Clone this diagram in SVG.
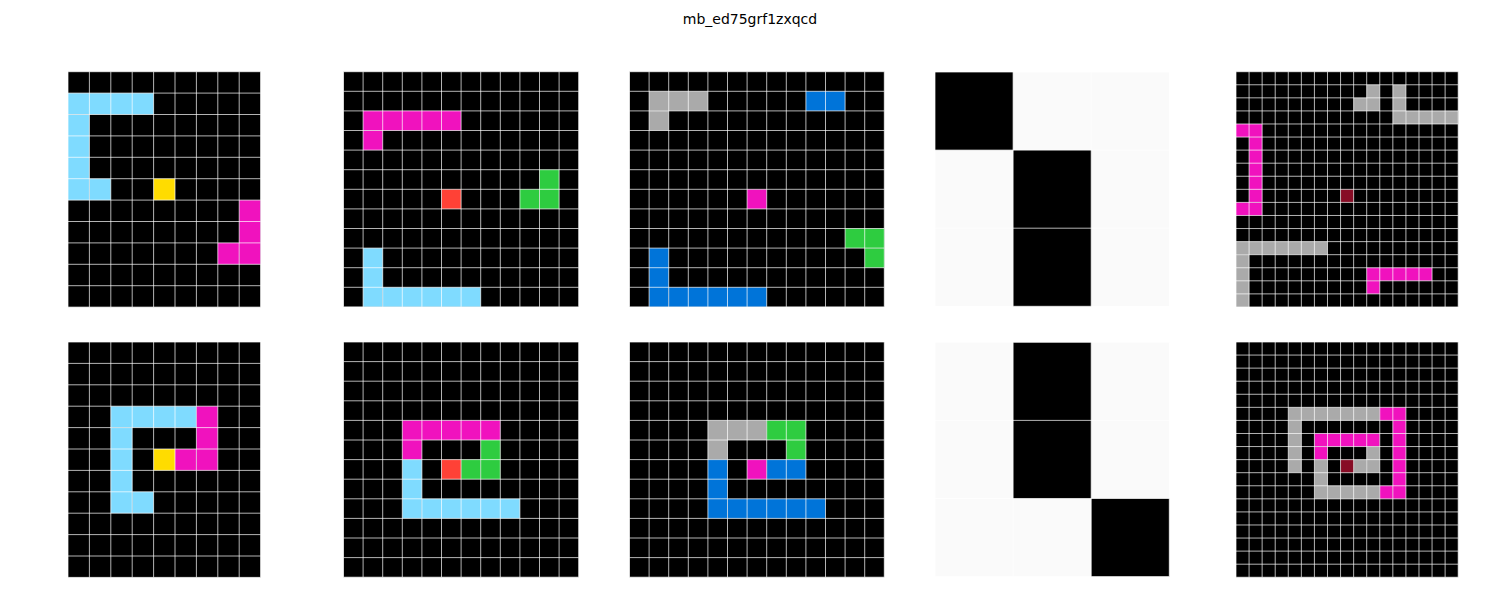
<svg xmlns="http://www.w3.org/2000/svg" width="1500" height="600" viewBox="0 0 1500 600">
<style>
.bg{fill:#000}
.wbg{fill:#fafafa}
.k{fill:#000}
.lb{fill:#7FDBFF}
.y{fill:#FFDC00}
.m{fill:#F012BE}
.r{fill:#FF4136}
.g{fill:#2ECC40}
.gr{fill:#AAAAAA}
.b{fill:#0074D9}
.mr{fill:#870C25}
.gl{fill:none;stroke:#fff;stroke-opacity:0.7;stroke-width:1;vector-effect:non-scaling-stroke}
.t{font-family:"DejaVu Sans",sans-serif;font-size:14px;fill:#000}
</style>
<rect width="1500" height="600" fill="#fff"/>
<text class="t" x="750" y="24" text-anchor="middle">mb_ed75grf1zxqcd</text>

<g id="grid1" transform="translate(68,71.7) scale(21.4)">
<rect class="bg" width="9" height="11"/>
<rect class="lb" x="0" y="1" width="4" height="1"/><rect class="lb" x="0" y="2" width="1" height="4"/><rect class="lb" x="1" y="5" width="1" height="1"/>
<rect class="y" x="4" y="5" width="1" height="1"/>
<rect class="m" x="8" y="6" width="1" height="3"/><rect class="m" x="7" y="8" width="1" height="1"/>
<path class="gl" d="M0,0V11M1,0V11M2,0V11M3,0V11M4,0V11M5,0V11M6,0V11M7,0V11M8,0V11M9,0V11M0,0H9M0,1H9M0,2H9M0,3H9M0,4H9M0,5H9M0,6H9M0,7H9M0,8H9M0,9H9M0,10H9M0,11H9"/>
</g>

<g id="grid2" transform="translate(343.5,71.7) scale(19.6)">
<rect class="bg" width="12" height="12"/>
<rect class="m" x="1" y="2" width="5" height="1"/><rect class="m" x="1" y="3" width="1" height="1"/>
<rect class="g" x="10" y="5" width="1" height="2"/><rect class="g" x="9" y="6" width="1" height="1"/>
<rect class="r" x="5" y="6" width="1" height="1"/>
<rect class="lb" x="1" y="9" width="1" height="3"/><rect class="lb" x="2" y="11" width="5" height="1"/>
<path class="gl" d="M0,0V12M1,0V12M2,0V12M3,0V12M4,0V12M5,0V12M6,0V12M7,0V12M8,0V12M9,0V12M10,0V12M11,0V12M12,0V12M0,0H12M0,1H12M0,2H12M0,3H12M0,4H12M0,5H12M0,6H12M0,7H12M0,8H12M0,9H12M0,10H12M0,11H12M0,12H12"/>
</g>

<g id="grid3" transform="translate(629.5,71.7) scale(19.6)">
<rect class="bg" width="13" height="12"/>
<rect class="gr" x="1" y="1" width="3" height="1"/><rect class="gr" x="1" y="2" width="1" height="1"/>
<rect class="b" x="9" y="1" width="2" height="1"/>
<rect class="m" x="6" y="6" width="1" height="1"/>
<rect class="g" x="11" y="8" width="2" height="1"/><rect class="g" x="12" y="9" width="1" height="1"/>
<rect class="b" x="1" y="9" width="1" height="3"/><rect class="b" x="2" y="11" width="5" height="1"/>
<path class="gl" d="M0,0V12M1,0V12M2,0V12M3,0V12M4,0V12M5,0V12M6,0V12M7,0V12M8,0V12M9,0V12M10,0V12M11,0V12M12,0V12M13,0V12M0,0H13M0,1H13M0,2H13M0,3H13M0,4H13M0,5H13M0,6H13M0,7H13M0,8H13M0,9H13M0,10H13M0,11H13M0,12H13"/>
</g>

<g id="grid4" transform="translate(935,72) scale(78.1)">
<rect class="wbg" width="3" height="3"/>
<rect class="k" x="0" y="0" width="1" height="1"/><rect class="k" x="1" y="1" width="1" height="2"/>
<path class="gl" d="M0,0V3M1,0V3M2,0V3M3,0V3M0,0H3M0,1H3M0,2H3M0,3H3"/>
</g>

<g id="grid5" transform="translate(1236,71.7) scale(13.07)">
<rect class="bg" width="17" height="18"/>
<rect class="gr" x="10" y="1" width="1" height="2"/><rect class="gr" x="9" y="2" width="1" height="1"/>
<rect class="gr" x="12" y="1" width="1" height="3"/><rect class="gr" x="13" y="3" width="4" height="1"/>
<rect class="m" x="0" y="4" width="2" height="1"/><rect class="m" x="1" y="5" width="1" height="5"/><rect class="m" x="0" y="10" width="2" height="1"/>
<rect class="mr" x="8" y="9" width="1" height="1"/>
<rect class="gr" x="0" y="13" width="7" height="1"/><rect class="gr" x="0" y="14" width="1" height="4"/>
<rect class="m" x="10" y="15" width="5" height="1"/><rect class="m" x="10" y="16" width="1" height="1"/>
<path class="gl" d="M0,0V18M1,0V18M2,0V18M3,0V18M4,0V18M5,0V18M6,0V18M7,0V18M8,0V18M9,0V18M10,0V18M11,0V18M12,0V18M13,0V18M14,0V18M15,0V18M16,0V18M17,0V18M0,0H17M0,1H17M0,2H17M0,3H17M0,4H17M0,5H17M0,6H17M0,7H17M0,8H17M0,9H17M0,10H17M0,11H17M0,12H17M0,13H17M0,14H17M0,15H17M0,16H17M0,17H17M0,18H17"/>
</g>

<g id="grid6" transform="translate(68,342) scale(21.4)">
<rect class="bg" width="9" height="11"/>
<rect class="lb" x="2" y="3" width="4" height="1"/><rect class="lb" x="2" y="4" width="1" height="4"/><rect class="lb" x="3" y="7" width="1" height="1"/>
<rect class="m" x="6" y="3" width="1" height="3"/><rect class="m" x="5" y="5" width="1" height="1"/>
<rect class="y" x="4" y="5" width="1" height="1"/>
<path class="gl" d="M0,0V11M1,0V11M2,0V11M3,0V11M4,0V11M5,0V11M6,0V11M7,0V11M8,0V11M9,0V11M0,0H9M0,1H9M0,2H9M0,3H9M0,4H9M0,5H9M0,6H9M0,7H9M0,8H9M0,9H9M0,10H9M0,11H9"/>
</g>

<g id="grid7" transform="translate(343.5,342) scale(19.6)">
<rect class="bg" width="12" height="12"/>
<rect class="m" x="3" y="4" width="5" height="1"/><rect class="m" x="3" y="5" width="1" height="1"/>
<rect class="g" x="7" y="5" width="1" height="2"/><rect class="g" x="6" y="6" width="1" height="1"/>
<rect class="r" x="5" y="6" width="1" height="1"/>
<rect class="lb" x="3" y="6" width="1" height="3"/><rect class="lb" x="4" y="8" width="5" height="1"/>
<path class="gl" d="M0,0V12M1,0V12M2,0V12M3,0V12M4,0V12M5,0V12M6,0V12M7,0V12M8,0V12M9,0V12M10,0V12M11,0V12M12,0V12M0,0H12M0,1H12M0,2H12M0,3H12M0,4H12M0,5H12M0,6H12M0,7H12M0,8H12M0,9H12M0,10H12M0,11H12M0,12H12"/>
</g>

<g id="grid8" transform="translate(629.5,342) scale(19.6)">
<rect class="bg" width="13" height="12"/>
<rect class="gr" x="4" y="4" width="3" height="1"/><rect class="gr" x="4" y="5" width="1" height="1"/>
<rect class="g" x="7" y="4" width="2" height="1"/><rect class="g" x="8" y="5" width="1" height="1"/>
<rect class="b" x="4" y="6" width="1" height="3"/><rect class="b" x="7" y="6" width="2" height="1"/><rect class="b" x="5" y="8" width="5" height="1"/>
<rect class="m" x="6" y="6" width="1" height="1"/>
<path class="gl" d="M0,0V12M1,0V12M2,0V12M3,0V12M4,0V12M5,0V12M6,0V12M7,0V12M8,0V12M9,0V12M10,0V12M11,0V12M12,0V12M13,0V12M0,0H13M0,1H13M0,2H13M0,3H13M0,4H13M0,5H13M0,6H13M0,7H13M0,8H13M0,9H13M0,10H13M0,11H13M0,12H13"/>
</g>

<g id="grid9" transform="translate(935,342.3) scale(78.1)">
<rect class="wbg" width="3" height="3"/>
<rect class="k" x="1" y="0" width="1" height="2"/><rect class="k" x="2" y="2" width="1" height="1"/>
<path class="gl" d="M0,0V3M1,0V3M2,0V3M3,0V3M0,0H3M0,1H3M0,2H3M0,3H3"/>
</g>

<g id="grid10" transform="translate(1236,342) scale(13.07)">
<rect class="bg" width="17" height="18"/>
<rect class="gr" x="4" y="5" width="7" height="1"/><rect class="gr" x="4" y="6" width="1" height="4"/>
<rect class="m" x="11" y="5" width="2" height="1"/><rect class="m" x="12" y="6" width="1" height="6"/><rect class="m" x="11" y="11" width="1" height="1"/>
<rect class="m" x="6" y="7" width="5" height="1"/><rect class="m" x="6" y="8" width="1" height="1"/>
<rect class="gr" x="10" y="8" width="1" height="2"/><rect class="gr" x="9" y="9" width="1" height="1"/>
<rect class="gr" x="6" y="9" width="1" height="3"/><rect class="gr" x="7" y="11" width="4" height="1"/>
<rect class="mr" x="8" y="9" width="1" height="1"/>
<path class="gl" d="M0,0V18M1,0V18M2,0V18M3,0V18M4,0V18M5,0V18M6,0V18M7,0V18M8,0V18M9,0V18M10,0V18M11,0V18M12,0V18M13,0V18M14,0V18M15,0V18M16,0V18M17,0V18M0,0H17M0,1H17M0,2H17M0,3H17M0,4H17M0,5H17M0,6H17M0,7H17M0,8H17M0,9H17M0,10H17M0,11H17M0,12H17M0,13H17M0,14H17M0,15H17M0,16H17M0,17H17M0,18H17"/>
</g>
</svg>
